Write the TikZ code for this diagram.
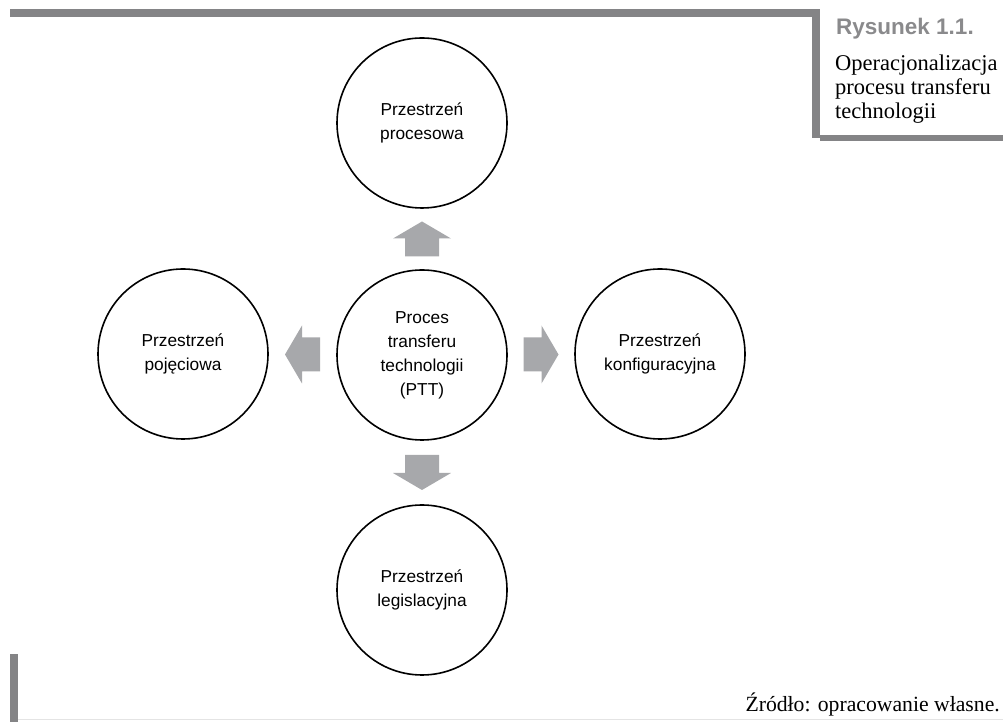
\documentclass[tikz,border=0pt]{standalone}
\usepackage{fontspec}
\setmainfont{Liberation Serif}
\setsansfont{Liberation Sans}
\usepackage{xcolor}
\usetikzlibrary{calc}
\definecolor{bargray}{HTML}{848486}
\definecolor{arrowgray}{HTML}{A7A8AB}
\definecolor{titlegray}{HTML}{8A8A8C}
\definecolor{linegray}{HTML}{E4E4E4}
\newcommand{\blockarrow}[2]{%
  \fill[arrowgray,shift={#1},rotate=#2] (-17.5,-17) -- (0.5,-17) -- (0.5,-29) -- (17.5,0)
    -- (0.5,29) -- (0.5,17) -- (-17.5,17) -- cycle;}

\begin{document}
\begin{tikzpicture}[x=1pt, y=1pt,
  spacecircle/.style={circle, draw, line width=1.6pt, minimum size=170pt, inner sep=0pt,
    align=center, font=\sffamily\fontsize{17.3}{24}\selectfont}]
  \useasboundingbox (0,0) rectangle (1003,722);
  \fill[bargray] (10,705) rectangle (820,713);
  \fill[bargray] (812,584) rectangle (820,713);
  \fill[bargray] (820,581) rectangle (1003,587);
  \fill[bargray] (10,0) rectangle (18,68);
  \draw[linegray, line width=1pt] (18,2.5) -- (1003,2.5);
  \node[anchor=base west, inner sep=0pt, text=titlegray,
    font=\sffamily\bfseries\fontsize{22.5}{26}\selectfont] (figno) at (836,687) {Rysunek 1.1.};
  \node[anchor=north west, inner sep=0pt, align=left,
    font=\fontsize{22.5}{24}\selectfont] (figtitle) at (835,667)
    {Operacjonalizacja\\procesu transferu\\technologii};
  \node[spacecircle] (ptt)  at (422,367) {Proces\\transferu\\technologii\\(PTT)};
  \node[spacecircle] (proc) at (422,599) {Przestrzeń\\procesowa};
  \node[spacecircle] (poj)  at (183,368) {Przestrzeń\\pojęciowa};
  \node[spacecircle] (konf) at (660,368) {Przestrzeń\\konfiguracyjna};
  \node[spacecircle] (leg)  at (422,132) {Przestrzeń\\legislacyjna};
  \blockarrow{($(ptt.north)!0.5!(proc.south)$)}{90}
  \blockarrow{($(ptt.south)!0.5!(leg.north)$)}{-90}
  \blockarrow{($(ptt.west)!0.5!(poj.east)$)}{180}
  \blockarrow{($(ptt.east)!0.5!(konf.west)$)}{0}
  \node[anchor=base east, inner sep=0pt, font=\fontsize{21.7}{26}\selectfont] (source)
    at (1000,10) {Źródło: opracowanie własne.};
\end{tikzpicture}
\end{document}
